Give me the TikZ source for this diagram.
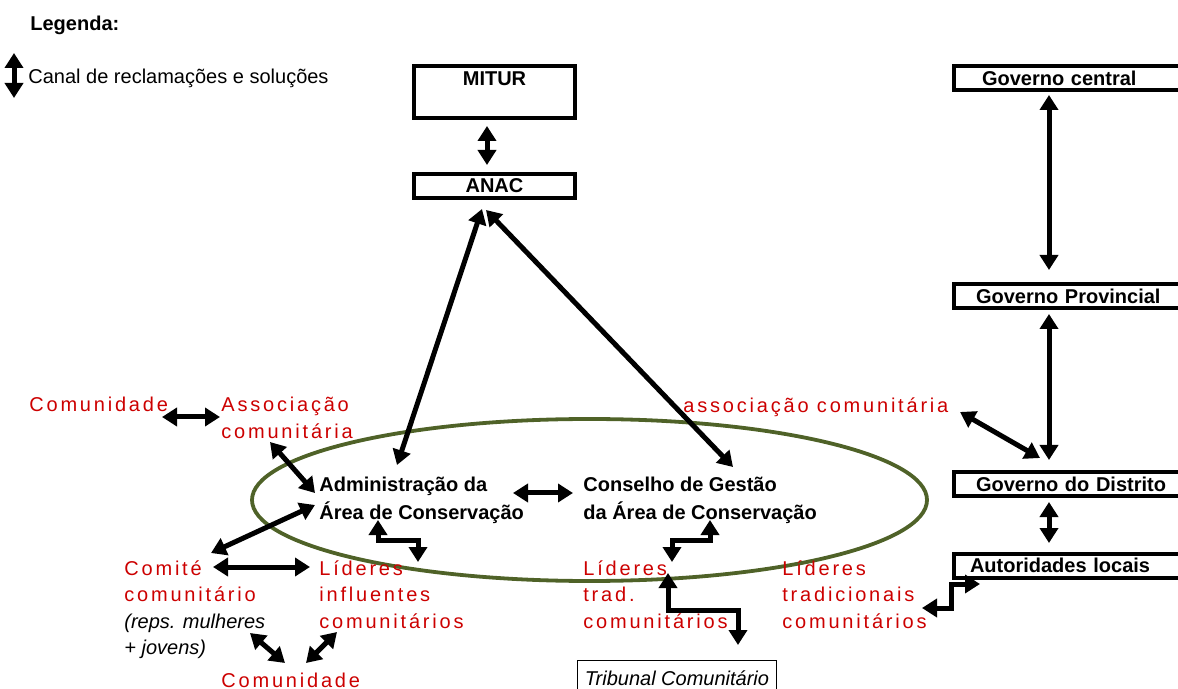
\documentclass[tikz,border=0pt]{standalone}
\usepackage{fontspec}
\setmainfont{Liberation Sans}
\newfontfamily\spacedfont[LetterSpace=14]{Liberation Sans}
\newfontfamily\plainfont{Liberation Sans}
\usetikzlibrary{arrows.meta,shapes.geometric}
\definecolor{lbred}{HTML}{CC0000}
\definecolor{areagreen}{HTML}{4F6228}
\newcommand{\repsnote}[1]{{\plainfont\itshape\color{black}#1}}
\begin{document}
\begin{tikzpicture}[
	x=0.5pt, y=-0.5pt,
	box/.style={draw, line width=2pt, inner sep=2pt, font=\bfseries, minimum height=12pt},
	govbox/.style={box, anchor=west, text width=110pt, align=left},
	redtxt/.style={anchor=base west, inner sep=0pt, align=left, text=lbred, font=\spacedfont\fontsize{10}{13.25}\selectfont},
	blacktxt/.style={anchor=base west, inner sep=0pt, align=left, font=\bfseries\fontsize{10}{13.5}\selectfont},
	link/.style={<->, >={Triangle[width=9pt,length=7.5pt]}, line width=2.5pt}
	]
	\useasboundingbox (0,0) rectangle (1178,689);
	
	% Legend
	\node[anchor=base west, inner sep=0pt, font=\bfseries] (legenda) at (30,31) {Legenda:};
	\node[anchor=base west, inner sep=0pt] (canal) at (28,84) {Canal de reclamações e soluções};
	\coordinate (legtop) at (14,53);
	\coordinate (legbot) at (14,98);
	\draw[link] (legtop) -- (legbot);
	
	% Ministry and ANAC
	\node[box, minimum width=80.5pt, text height=8pt, text depth=14pt, anchor=north] (mitur) at (494.5,64) {MITUR};
	\node[box, minimum width=80.5pt] (anac) at (494.5,186) {ANAC};
	
	% Government chain
	\node[govbox, inner xsep=14pt] (govc) at (952,78) {Governo central};
	\node[govbox, inner xsep=11pt] (govp) at (952,296) {Governo Provincial};
	\node[govbox, inner xsep=11pt] (govd) at (952,484) {Governo do Distrito};
	\node[govbox, inner xsep=8pt] (autor) at (952,565.5) {Autoridades locais};
	
	% Conservation area (nodes placed by their last line)
	\node[ellipse, draw=areagreen, line width=1.9pt, minimum width=337.5pt, minimum height=81pt, inner sep=0pt] (area) at (589.5,500) {};
	\node[blacktxt] (admin) at (319,519) {Administração da\\Área de Conservação};
	\node[blacktxt] (conselho) at (583,519) {Conselho de Gestão\\da Área de Conservação};
	
	% Community actors
	\node[redtxt] (comA) at (29,412) {Comunidade};
	\node[redtxt] (assocL) at (221,438.5) {Associação\\comunitária};
	\node[redtxt] (assocR) at (683,413) {associação comunitária};
	\node[redtxt] (comite) at (124,654.5) {Comité\\comunitário\\\repsnote{(reps. mulheres}\\\repsnote{+ jovens)}};
	\node[redtxt] (lidinf) at (319,628) {Líderes\\influentes\\comunitários};
	\node[redtxt] (lidtrd) at (583,628) {Líderes\\trad.\\comunitários};
	\node[redtxt] (lidtrad) at (782,628) {Líderes\\tradicionais\\comunitários};
	\node[redtxt] (comB) at (221,687) {Comunidade};
	\node[draw, line width=0.5pt, anchor=north west, minimum width=99.5pt, minimum height=18pt, font=\itshape] (trib) at (577,660) {Tribunal Comunitário};
	
	% Channels
	\draw[link] ([shift={(-7.5,6)}]mitur.south) -- ([shift={(-7.5,-7)}]anac.north);
	\draw[link] ([shift={(-12.5,9)}]anac.south) -- ([shift={(78,-54)}]admin.base west);
	\draw[link] ([shift={(-8.5,10)}]anac.south) -- ([shift={(150,-52)}]conselho.base west);
	\draw[link] ([shift={(194,-26)}]admin.base west) -- ([shift={(-10,-26)}]conselho.base west);
	\draw[link] ([shift={(133,5)}]comA.base west) -- ([shift={(-1,-21.5)}]assocL.base west);
	\draw[link] ([shift={(49,3.5)}]assocL.base west) -- ([shift={(-4,-26)}]admin.base west);
	\draw[link] ([shift={(-4,-14)}]admin.base west) -- ([shift={(87,-101.5)}]comite.base west);
	\draw[link] ([shift={(89,-87.5)}]comite.base west) -- ([shift={(-9,-61)}]lidinf.base west);
	\draw[link] ([shift={(59,1)}]admin.base west) -- ++(0,20) -| ([shift={(99,-66)}]lidinf.base west);
	\draw[link] ([shift={(126,-21.5)}]comite.base west) -- ([shift={(64,-24)}]comB.base west);
	\draw[link] ([shift={(18,4)}]lidinf.base west) -- ([shift={(85,-24)}]comB.base west);
	\draw[link] ([shift={(127,1)}]conselho.base west) -- ++(0,20) -| ([shift={(89,-66)}]lidtrd.base west);
	\draw[link] ([shift={(85,-55)}]lidtrd.base west) -- ++(0,37) -| ([shift={(161,-15)}]trib.north west);
	\draw[link] ([shift={(97,3)}]govc.south west) -- ([shift={(97,-12)}]govp.north west);
	\draw[link] ([shift={(97,4)}]govp.south west) -- ([shift={(97,-10)}]govd.north west);
	\draw[link] ([shift={(97,4)}]govd.south west) -- ([shift={(97,-8.5)}]autor.north west);
	\draw[link] ([shift={(277,-1)}]assocR.base west) -- ([shift={(88,-12)}]govd.north west);
	\draw[link] ([shift={(140,-20)}]lidtrad.base west) -- ++(29,0) |- ([shift={(28,4.5)}]autor.south west);
\end{tikzpicture}
\end{document}
